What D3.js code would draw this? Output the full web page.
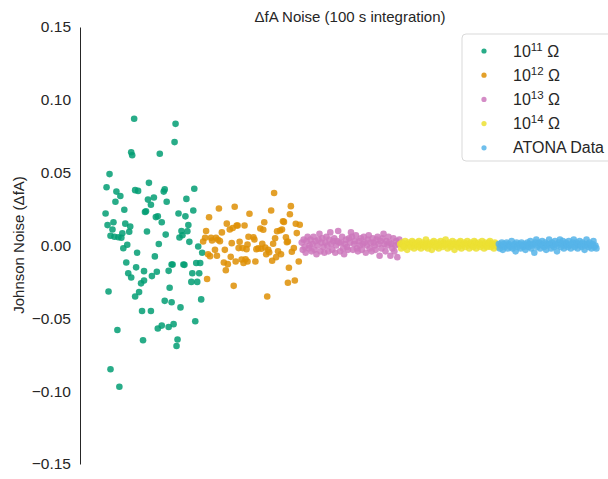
<!DOCTYPE html>
<html>
<head>
<meta charset="utf-8">
<script src="https://cdn.jsdelivr.net/npm/d3@7"></script>
<style>
  body { margin: 0; background: #fff; }
  text { font-family: "Liberation Sans", Arial, sans-serif; fill: #262626; }
</style>
</head>
<body>
<div class="chartContainer"></div>
<script>
// [sample, value] pairs (fA)
var green = [
  [1, 0.022], [2, 0.040], [3, 0.014], [4, -0.0316], [5, 0.049], [6, 0.0067], [6, -0.085], [8, 0.011],
  [9, 0.016], [10, 0.006], [11, 0.030], [12, 0.037], [13, -0.058], [14, 0.0057], [15, -0.097], [16, 0.034],
  [17, 0.0053], [18, 0.0084], [19, -0.0019], [20, 0.0245], [21, 0.015], [22, -0.0117], [23, 0.0005], [24, -0.019],
  [25, 0.0094], [26, 0.013], [27, 0.064], [27, -0.022], [28, 0.062], [30, 0.087], [31, 0.038], [31, -0.035],
  [32, -0.015], [33, -0.005], [34, 0.0375], [35, -0.032], [37, -0.026], [38, -0.045], [39, -0.065], [40, -0.0176],
  [40, -0.024], [41, 0.023], [42, 0.0235], [43, 0.0096], [44, 0.0315], [45, 0.043], [47, 0.028], [47, -0.045],
  [48, -0.021], [50, 0.033], [51, -0.0075], [52, 0.0195], [53, -0.018], [54, 0.020], [54, -0.057], [55, 0.001],
  [56, 0.063], [58, 0.016], [58, -0.055], [60, 0.037], [61, 0.0385], [61, -0.038], [62, 0.0075], [63, 0.030],
  [65, -0.0174], [65, -0.056], [66, -0.029], [68, -0.013], [68, -0.039], [69, -0.013], [70, -0.054], [71, 0.071],
  [72, 0.0835], [73, -0.069], [74, -0.0645], [75, 0.022], [76, 0.0055], [77, -0.0425], [78, 0.010], [79, 0.007],
  [80, -0.013], [81, -0.0133], [82, 0.020], [83, 0.032], [84, 0.0098], [85, 0.014], [86, 0.0025], [88, -0.025],
  [89, -0.019], [90, 0.024], [91, 0.039], [92, -0.052], [93, -0.012], [94, -0.025], [95, -0.0007], [96, -0.019],
  [97, -0.012], [98, -0.037], [99, -0.005]
];

var orange = [
  [100, 0.0027], [102, 0.0053], [103, 0.010], [104, -0.023], [105, -0.006], [106, 0.0194], [107, -0.0073], [108, 0.0053],
  [109, 0.0034], [112, -0.003], [113, 0.0053], [114, -0.007], [115, 0.0039], [116, 0.0254], [117, 0.003], [119, 0.009],
  [121, -0.0117], [122, -0.003], [123, -0.017], [124, 0.015], [125, -0.0128], [127, 0.011], [128, -0.0078], [129, 0.0016],
  [130, 0.012], [131, -0.0277], [132, 0.0266], [133, -0.011], [134, 0.0137], [135, 0.0137], [136, -0.0018], [137, 0.0025],
  [139, -0.0096], [140, -0.0018], [141, -0.012], [142, 0.0137], [143, -0.0094], [144, -0.0025], [145, 0.0007], [145, -0.011],
  [146, 0.006], [147, 0.0218], [151, 0.0057], [152, 0.0041], [153, -0.011], [154, -0.0025], [156, -0.002], [158, 0.0117],
  [159, -0.0022], [160, 0.0012], [161, 0.0108], [162, 0.016], [163, -0.0014], [164, -0.006], [165, -0.035], [166, -0.003],
  [167, -0.0046], [169, 0.024], [170, -0.0105], [171, 0.0012], [172, 0.036], [173, 0.005], [174, -0.008], [175, 0.0098],
  [176, -0.004], [178, 0.0103], [179, -0.006], [180, 0.011], [181, 0.0166], [182, 0.0162], [184, 0.0057], [185, 0.0022],
  [186, 0.0027], [186, -0.0256], [187, -0.0153], [188, 0.0215], [189, 0.027], [190, -0.0043], [192, -0.0018], [193, -0.024],
  [194, 0.0149], [195, 0.0085], [197, -0.011], [198, 0.0142]
];

// samples 200..299, 300..399, 400..499
var pink = [
  0.002, -0.003, 0.004, -0.001, -0.005, 0.003, 0.006, -0.002, 0.000, 0.004,
  -0.004, 0.001, 0.006, -0.003, 0.003, -0.006, 0.000, 0.004, 0.008, -0.004,
  0.002, 0.005, -0.001, -0.005, 0.002, 0.006, 0.000, -0.004, 0.004, 0.009,
  0.001, -0.003, 0.003, 0.005, -0.005, 0.000, 0.003, 0.010, 0.002, -0.004,
  0.002, 0.006, -0.002, -0.006, 0.001, 0.004, -0.001, -0.003, 0.005, 0.002,
  0.009, 0.006, -0.003, 0.001, 0.003, 0.007, -0.002, -0.004, 0.003, 0.000,
  0.005, -0.003, 0.001, 0.006, 0.002, -0.005, 0.000, 0.004, 0.007, -0.002,
  0.002, -0.004, 0.005, 0.002, 0.000, -0.003, 0.004, 0.006, 0.001, -0.007,
  0.003, -0.002, 0.005, 0.008, 0.001, -0.004, 0.003, 0.000, 0.006, 0.002,
  -0.007, 0.001, -0.002, 0.005, -0.004, 0.000, 0.003, -0.008, 0.001, 0.004
];
var yellow = [
  0.001, -0.002, 0.002, 0.000, -0.001, 0.003, 0.001, -0.003, 0.002, 0.000,
  0.001, -0.001, 0.003, 0.002, -0.002, 0.000, 0.001, 0.002, -0.001, 0.003,
  0.000, -0.002, 0.001, 0.002, 0.000, -0.001, 0.004, 0.001, -0.002, 0.002,
  0.000, 0.001, -0.003, 0.002, 0.003, 0.000, -0.001, 0.001, 0.002, -0.002,
  0.000, 0.003, 0.001, -0.001, 0.002, 0.000, 0.004, 0.001, -0.002, 0.001,
  0.002, -0.001, 0.000, 0.003, 0.001, -0.003, 0.002, 0.000, 0.001, -0.001,
  0.002, 0.003, -0.002, 0.000, 0.001, 0.002, -0.001, 0.001, 0.003, 0.000,
  -0.002, 0.002, 0.001, 0.000, -0.001, 0.003, 0.002, -0.002, 0.001, 0.000,
  0.002, -0.001, 0.001, 0.003, 0.000, -0.002, 0.002, 0.001, -0.001, 0.000,
  0.002, 0.003, -0.001, 0.001, 0.000, -0.002, 0.002, 0.001, 0.000, -0.001
];
var blue = [
  0.001, -0.002, 0.000, 0.002, -0.003, 0.001, -0.001, 0.000, 0.002, -0.002,
  0.001, 0.000, -0.001, 0.003, -0.002, 0.000, 0.001, -0.004, 0.002, -0.001,
  0.000, 0.001, -0.002, 0.002, 0.000, -0.001, 0.001, -0.003, 0.000, 0.002,
  -0.001, 0.001, 0.003, -0.002, 0.000, 0.001, -0.005, 0.002, 0.004, -0.001,
  0.000, 0.002, -0.002, 0.001, 0.003, 0.000, -0.001, 0.002, -0.003, 0.001,
  0.000, 0.004, 0.001, -0.002, 0.002, 0.000, -0.001, 0.003, 0.001, -0.004,
  0.000, 0.002, 0.004, -0.001, 0.001, 0.003, -0.002, 0.000, 0.002, 0.001,
  -0.001, 0.003, 0.000, -0.002, 0.001, 0.002, 0.004, -0.001, 0.000, 0.002,
  -0.002, 0.001, 0.003, 0.000, -0.001, 0.002, 0.001, -0.003, 0.000, 0.004,
  0.001, -0.001, 0.002, 0.000, -0.002, 0.001, 0.003, -0.001, 0.000, -0.002
];

var yTicks = [-0.15, -0.10, -0.05, 0.00, 0.05, 0.10, 0.15];
var labels = [["10", "11", " Ω"], ["10", "12", " Ω"], ["10", "13", " Ω"], ["10", "14", " Ω"], ["ATONA Data", "", ""]];
var colors = ["#029e73", "#de8f05", "#cc78bc", "#ece133", "#56b4e9"];

var series = [
  green,
  orange,
  pink.map(function (v, i) { return [200 + i, v]; }),
  yellow.map(function (v, i) { return [300 + i, v]; }),
  blue.map(function (v, i) { return [400 + i, v]; })
];

var width = 608, height = 479;

var x = d3.scaleLinear().domain([-24.95, 523.95]).range([80, 621]);
var y = d3.scaleLinear().domain([-0.15, 0.15]).range([464, 27]);

var svg = d3.select(".chartContainer")
  .append("svg")
  .attr("width", width)
  .attr("height", height);

// y axis, seaborn white style: spine only, no tick marks
var yAxis = d3.axisLeft(y)
  .tickValues(yTicks)
  .tickSize(0)
  .tickPadding(9)
  .tickFormat(function (d) { return d3.format(".2f")(d).replace("-", "\u2212"); });

var gy = svg.append("g")
  .attr("transform", "translate(80,0)")
  .call(yAxis);
gy.select(".domain").attr("stroke", "#262626").attr("stroke-width", 1);
gy.selectAll("text").style("font-size", "15.5px").attr("fill", "#262626");

svg.append("text")
  .attr("transform", "translate(24,245) rotate(-90)")
  .attr("text-anchor", "middle")
  .style("font-size", "15px")
  .text("Johnson Noise (ΔfA)");

svg.append("text")
  .attr("x", 350)
  .attr("y", 22)
  .attr("text-anchor", "middle")
  .style("font-size", "15px")
  .text("ΔfA Noise (100 s integration)");

// points
series.forEach(function (s, k) {
  svg.append("g")
    .selectAll("circle")
    .data(s)
    .enter()
    .append("circle")
    .attr("cx", function (d) { return x(d[0]); })
    .attr("cy", function (d) { return y(d[1]); })
    .attr("r", 3.3)
    .attr("fill", colors[k])
    .attr("fill-opacity", 0.85);
});

// legend
var legend = svg.append("g").attr("transform", "translate(462,34)");
legend.append("rect")
  .attr("width", 160)
  .attr("height", 127)
  .attr("rx", 4)
  .attr("fill", "#fff")
  .attr("stroke", "#d9d9d9");

var item = legend.selectAll("g.item")
  .data(labels)
  .enter()
  .append("g")
  .classed("item", true)
  .attr("transform", function (d, i) { return "translate(0," + (17 + i * 24.2) + ")"; });

item.append("circle")
  .attr("cx", 22)
  .attr("cy", 0)
  .attr("r", 2.6)
  .attr("fill", function (d, i) { return colors[i]; })
  .attr("fill-opacity", 0.85);

var lt = item.append("text")
  .attr("x", 51)
  .attr("y", 5.5)
  .style("font-size", "16px");
lt.append("tspan").text(function (d) { return d[0]; });
lt.append("tspan")
  .attr("dy", -6)
  .style("font-size", "11.5px")
  .text(function (d) { return d[1]; });
lt.append("tspan")
  .attr("dy", function (d) { return d[1] ? 6 : 0; })
  .text(function (d) { return d[2]; });
</script>
</body>
</html>
